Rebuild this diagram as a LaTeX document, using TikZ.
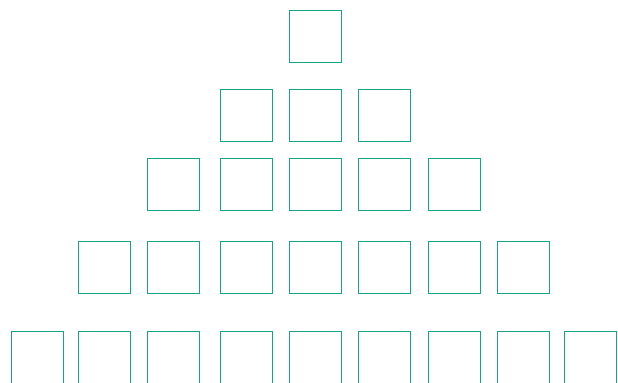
\documentclass[tikz,border=0pt]{standalone}
\usepackage{xcolor}
\usepackage{tikz}
\usetikzlibrary{positioning}
\definecolor{cellteal}{RGB}{22,163,138}

\begin{document}
\begin{tikzpicture}[
cell/.style={draw=cellteal, line width=0.8pt, fill=white,
minimum size=1.56cm, inner sep=0pt, outer sep=0pt}
]

\useasboundingbox (0,0) rectangle (18.54,11.46);

% row 1
\node[cell] (r1c1) at (9.45,10.38) {};

% row 2
\node[cell] (r2c1) at (7.38,8.01) {};
\node[cell] (r2c2) at (9.45,8.01) {};
\node[cell] (r2c3) at (11.52,8.01) {};

% row 3
\node[cell] (r3c1) at (5.19,5.94) {};
\node[cell] (r3c2) at (7.38,5.94) {};
\node[cell] (r3c3) at (9.45,5.94) {};
\node[cell] (r3c4) at (11.52,5.94) {};
\node[cell] (r3c5) at (13.62,5.94) {};

% row 4
\node[cell] (r4c1) at (3.12,3.45) {};
\node[cell] (r4c2) at (5.19,3.45) {};
\node[cell] (r4c3) at (7.38,3.45) {};
\node[cell] (r4c4) at (9.45,3.45) {};
\node[cell] (r4c5) at (11.52,3.45) {};
\node[cell] (r4c6) at (13.62,3.45) {};
\node[cell] (r4c7) at (15.69,3.45) {};

% row 5
\node[cell] (r5c1) at (1.11,0.75) {};
\node[cell] (r5c2) at (3.12,0.75) {};
\node[cell] (r5c3) at (5.19,0.75) {};
\node[cell] (r5c4) at (7.38,0.75) {};
\node[cell] (r5c5) at (9.45,0.75) {};
\node[cell] (r5c6) at (11.52,0.75) {};
\node[cell] (r5c7) at (13.62,0.75) {};
\node[cell] (r5c8) at (15.69,0.75) {};
\node[cell] (r5c9) at (17.70,0.75) {};

\end{tikzpicture}
\end{document}
